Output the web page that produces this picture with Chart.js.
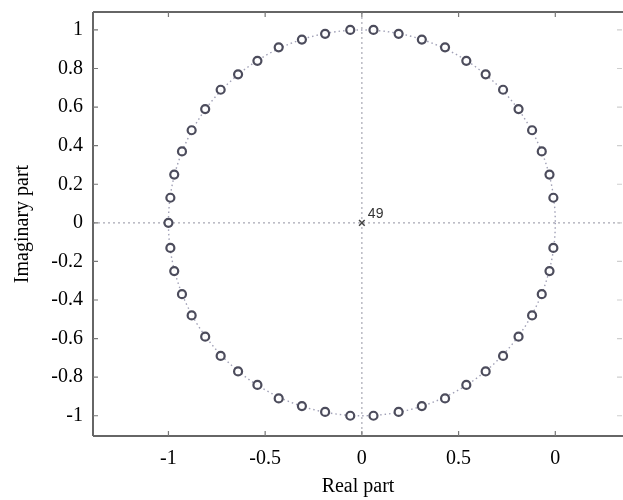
<!DOCTYPE html>
<html>
<head>
<meta charset="utf-8">
<script src="https://cdn.jsdelivr.net/npm/chart.js@4/dist/chart.umd.min.js"></script>
<style>
  html, body { margin: 0; padding: 0; background: #fff; }
  #wrap { width: 623px; height: 500px; position: relative; }
</style>
</head>
<body>
<div id="wrap"><canvas id="c"></canvas></div>
<script>
// Zeros of the filter (real and imaginary parts), ordered by angle
const zeroReal = [0.99, 0.97, 0.93, 0.88, 0.81, 0.73, 0.64, 0.54, 0.43, 0.31, 0.19, 0.06,
                  -0.06, -0.19, -0.31, -0.43, -0.54, -0.64, -0.73, -0.81, -0.88, -0.93, -0.97, -0.99,
                  -1.00,
                  -0.99, -0.97, -0.93, -0.88, -0.81, -0.73, -0.64, -0.54, -0.43, -0.31, -0.19, -0.06,
                  0.06, 0.19, 0.31, 0.43, 0.54, 0.64, 0.73, 0.81, 0.88, 0.93, 0.97, 0.99];
const zeroImag = [0.13, 0.25, 0.37, 0.48, 0.59, 0.69, 0.77, 0.84, 0.91, 0.95, 0.98, 1.00,
                  1.00, 0.98, 0.95, 0.91, 0.84, 0.77, 0.69, 0.59, 0.48, 0.37, 0.25, 0.13,
                  0.00,
                  -0.13, -0.25, -0.37, -0.48, -0.59, -0.69, -0.77, -0.84, -0.91, -0.95, -0.98, -1.00,
                  -1.00, -0.98, -0.95, -0.91, -0.84, -0.77, -0.69, -0.59, -0.48, -0.37, -0.25, -0.13];

// Poles: a multiple pole at the origin
const poleReal = [0];
const poleImag = [0];
const poleOrder = ['49'];

// Axis ticks
const xTickValues = [-1, -0.5, 0, 0.5, 1];
const xTickLabels = ['-1', '-0.5', '0', '0.5', '0'];
const yTickValues = [1, 0.8, 0.6, 0.4, 0.2, 0, -0.2, -0.4, -0.6, -0.8, -1];
const yTickLabels = ['1', '0.8', '0.6', '0.4', '0.2', '0', '-0.2', '-0.4', '-0.6', '-0.8', '-1'];

const zeroPoints = zeroReal.map((re, i) => ({ x: re, y: zeroImag[i] }));
const polePoints = poleReal.map((re, i) => ({ x: re, y: poleImag[i] }));

const serif = "'Liberation Serif', 'Times New Roman', serif";

// keep the plot frame fixed: no extra room for overhanging edge labels
function noEdgePadding(s) {
  s.paddingLeft = 0; s.paddingRight = 0; s.paddingTop = 0; s.paddingBottom = 0;
}

// Unit circle, zero lines, frame, inward ticks and pole multiplicity
const zplaneDecor = {
  id: 'zplaneDecor',
  beforeDatasetsDraw(chart) {
    const { ctx, chartArea: a, scales: { x, y } } = chart;
    const cx = x.getPixelForValue(0), cy = y.getPixelForValue(0);
    const rx = x.getPixelForValue(1) - cx, ry = cy - y.getPixelForValue(1);
    ctx.save();
    ctx.beginPath();
    ctx.rect(a.left, a.top, a.right - a.left, a.bottom - a.top);
    ctx.clip();
    // dotted axes through the origin
    ctx.strokeStyle = '#a8a8b4';
    ctx.lineWidth = 1.2;
    ctx.setLineDash([2, 3]);
    ctx.beginPath();
    ctx.moveTo(a.left, cy); ctx.lineTo(a.right, cy);
    ctx.moveTo(cx, a.top); ctx.lineTo(cx, a.bottom);
    ctx.stroke();
    // dotted unit circle
    ctx.strokeStyle = '#a0a0b6';
    ctx.lineWidth = 1.4;
    ctx.setLineDash([1.5, 3]);
    ctx.beginPath();
    ctx.ellipse(cx, cy, rx, ry, 0, 0, Math.PI * 2);
    ctx.stroke();
    ctx.restore();
  },
  afterDatasetsDraw(chart) {
    const { ctx, chartArea: a, scales: { x, y } } = chart;
    ctx.save();
    // frame
    ctx.strokeStyle = '#666';
    ctx.lineWidth = 2;
    ctx.setLineDash([]);
    ctx.beginPath();
    ctx.moveTo(a.left, a.top); ctx.lineTo(a.right, a.top);
    ctx.moveTo(a.left, a.top); ctx.lineTo(a.left, a.bottom);
    ctx.moveTo(a.left, a.bottom); ctx.lineTo(a.right, a.bottom);
    ctx.stroke();
    // inward tick marks: dark on left, bottom and top, faint on the right
    const tl = 5;
    ctx.lineWidth = 1.2;
    ctx.strokeStyle = '#777';
    ctx.beginPath();
    xTickValues.forEach(v => {
      const px = x.getPixelForValue(v);
      ctx.moveTo(px, a.bottom); ctx.lineTo(px, a.bottom - tl);
      ctx.moveTo(px, a.top); ctx.lineTo(px, a.top + tl);
    });
    yTickValues.forEach(v => {
      const py = y.getPixelForValue(v);
      ctx.moveTo(a.left, py); ctx.lineTo(a.left + tl, py);
    });
    ctx.stroke();
    ctx.strokeStyle = '#cfcfcf';
    ctx.beginPath();
    yTickValues.forEach(v => {
      const py = y.getPixelForValue(v);
      ctx.moveTo(a.right - 1, py); ctx.lineTo(a.right - 1 - tl, py);
    });
    ctx.stroke();
    // pole multiplicity
    ctx.fillStyle = '#333';
    ctx.font = "14px 'Liberation Sans', Arial, sans-serif";
    ctx.textAlign = 'left';
    ctx.textBaseline = 'alphabetic';
    poleOrder.forEach((txt, i) => {
      const px = x.getPixelForValue(poleReal[i]);
      const py = y.getPixelForValue(poleImag[i]);
      ctx.fillText(txt, px + 6, py - 5);
    });
    ctx.restore();
  }
};

new Chart(document.getElementById('c'), {
  type: 'scatter',
  data: {
    datasets: [
      {
        label: 'Zeros',
        data: zeroPoints,
        pointStyle: 'circle',
        pointRadius: 4,
        pointBackgroundColor: 'rgba(255,255,255,0.9)',
        pointBorderColor: '#4c4c5c',
        pointBorderWidth: 2.2,
        showLine: false
      },
      {
        label: 'Poles',
        data: polePoints,
        pointStyle: 'crossRot',
        pointRadius: 4,
        pointBorderColor: '#444',
        pointBorderWidth: 1.5,
        showLine: false
      }
    ]
  },
  options: {
    responsive: true,
    maintainAspectRatio: false,
    animation: false,
    events: [],
    layout: { autoPadding: false, padding: { left: 0, right: 0, top: 12, bottom: 0 } },
    plugins: { legend: { display: false }, tooltip: { enabled: false } },
    scales: {
      x: {
        type: 'linear',
        min: -1.39,
        max: 1.35,
        afterBuildTicks: s => { s.ticks = xTickValues.map(v => ({ value: v })); },
        afterFit: s => { s.height = 64; noEdgePadding(s); },
        grid: { display: false, drawTicks: false },
        border: { display: false },
        ticks: {
          padding: 11,
          color: '#000',
          font: { family: serif, size: 20 },
          callback: (v) => { const i = xTickValues.indexOf(v); return i >= 0 ? xTickLabels[i] : ''; }
        },
        title: {
          display: true,
          text: 'Real part',
          color: '#000',
          font: { family: serif, size: 20 },
          padding: { top: 0, bottom: 1 }
        }
      },
      y: {
        type: 'linear',
        min: -1.105,
        max: 1.093,
        afterBuildTicks: s => { s.ticks = yTickValues.map(v => ({ value: v })); },
        afterFit: s => { s.width = 93; noEdgePadding(s); },
        grid: { display: false, drawTicks: false },
        border: { display: false },
        ticks: {
          padding: 10,
          color: '#000',
          font: { family: serif, size: 20 },
          callback: (v) => { const i = yTickValues.indexOf(v); return i >= 0 ? yTickLabels[i] : ''; }
        },
        title: {
          display: true,
          text: 'Imaginary part',
          color: '#000',
          font: { family: serif, size: 20 },
          padding: { top: 11, bottom: 0 }
        }
      }
    }
  },
  plugins: [zplaneDecor]
});
</script>
</body>
</html>
